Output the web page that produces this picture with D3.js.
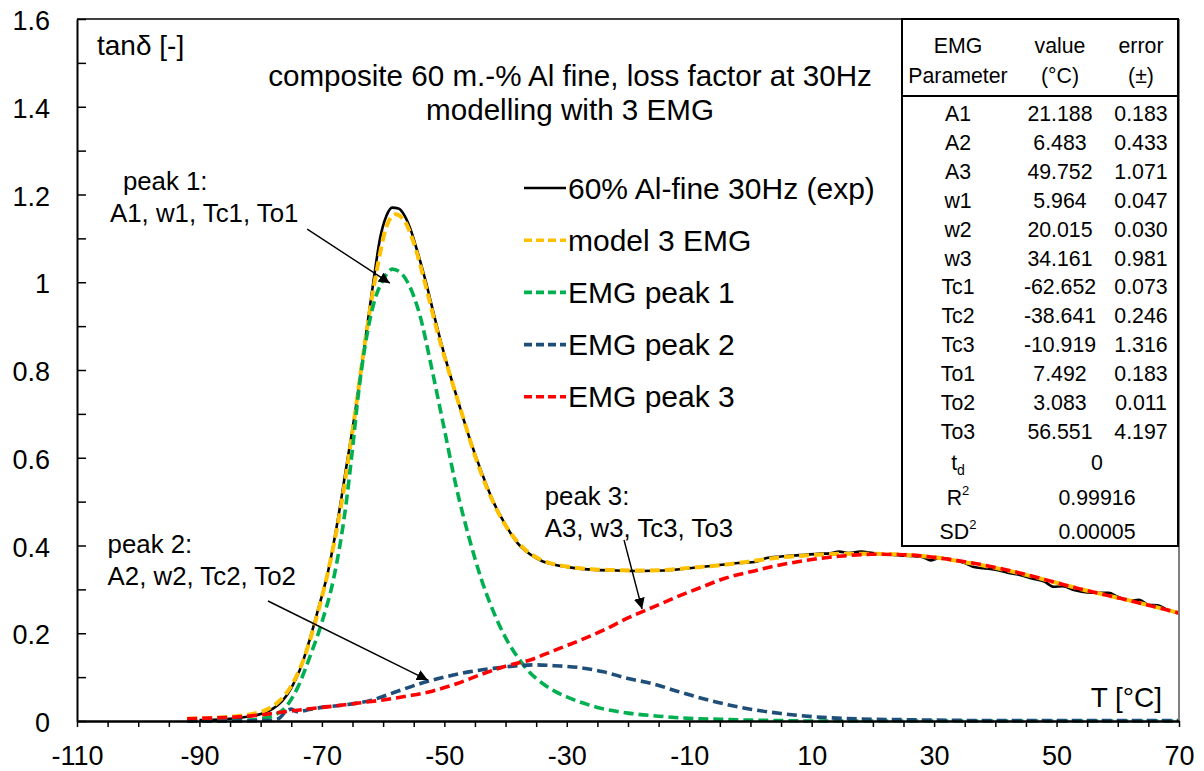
<!DOCTYPE html>
<html>
<head>
<meta charset="utf-8">
<script src="https://cdn.jsdelivr.net/npm/d3@7"></script>
<style>
  body { margin: 0; background: #fff; }
  svg { display: block; }
  text { font-family: Arial, "Liberation Sans", sans-serif; fill: #000; }
</style>
</head>
<body>
<svg id="chart" width="1204" height="771"></svg>
<script>
// ---- measured loss factor (60 m.-% Al fine, 30 Hz) ----
const expT = [-90, -86, -83, -80, -78, -76.5, -75, -73.5, -72, -70.5, -69, -67.5, -66, -64.5, -63, -61.5, -60.5, -59.5, -58.5, -57.5,
  -56.5, -55.5, -54.5, -53, -51.5, -50, -48, -46, -44, -42, -40, -38, -36, -34, -32, -29, -26, -22, -18, -14,
  -10, -6, -2, 1, 2.5, 5, 8, 11, 13, 14.5, 16, 18, 20, 22, 24, 26, 28, 29.5, 31, 33,
  35, 36.5, 38, 40, 42, 44, 46, 48, 49.5, 51, 53, 55, 57, 58.5, 60, 62, 63.5, 65, 66.5, 68, 70];
const expTan = [0.002, 0.004, 0.008, 0.016, 0.028, 0.045, 0.075, 0.12, 0.185, 0.26, 0.34, 0.45, 0.58, 0.71, 0.86, 1.01, 1.1, 1.15, 1.17, 1.168,
  1.152, 1.12, 1.075, 1.0, 0.915, 0.835, 0.74, 0.65, 0.57, 0.5, 0.447, 0.405, 0.38, 0.364, 0.356, 0.349, 0.345, 0.343, 0.342, 0.343,
  0.348, 0.354, 0.36, 0.363, 0.371, 0.375, 0.378, 0.381, 0.382, 0.386, 0.383, 0.386, 0.383, 0.38, 0.378, 0.376, 0.374, 0.366, 0.372, 0.367,
  0.36, 0.351, 0.348, 0.345, 0.338, 0.333, 0.325, 0.318, 0.306, 0.307, 0.298, 0.293, 0.292, 0.292, 0.283, 0.274, 0.276, 0.265, 0.264, 0.254, 0.245];

// ---- fitted model: sum of 3 EMG peaks ----
const modelT = [-92, -88, -84, -81, -79, -77, -75, -73, -71, -69, -67, -65, -63, -61, -59.5, -58, -56.5, -55, -53, -51,
  -49, -47, -45, -43, -41, -39, -37, -35, -33, -30, -26, -22, -18, -14, -10, -5, 0, 5, 10, 15,
  20, 25, 30, 35, 40, 45, 50, 55, 60, 65, 70];
const modelTan = [0.005, 0.007, 0.011, 0.017, 0.026, 0.045, 0.08, 0.14, 0.23, 0.34, 0.48, 0.66, 0.86, 1.03, 1.125, 1.155, 1.14, 1.09, 0.99, 0.88,
  0.785, 0.695, 0.605, 0.53, 0.47, 0.425, 0.393, 0.373, 0.361, 0.352, 0.346, 0.344, 0.343, 0.344, 0.349, 0.355, 0.364, 0.373, 0.378, 0.381,
  0.381, 0.379, 0.373, 0.362, 0.349, 0.333, 0.315, 0.297, 0.281, 0.264, 0.246];

// ---- EMG peak 1 ----
const peak1T = [-92, -88, -84, -82, -80, -78, -76, -74, -72, -70, -68, -66, -65, -64, -63, -62, -61, -60, -58.5, -57,
  -56, -54, -52, -50, -48, -46, -44, -42, -40, -38, -36, -34, -32, -30, -25, -20, -15, -10, -5, 0,
  5, 10, 30, 50, 70];
const peak1Tan = [0, 0, 0.001, 0.002, 0.005, 0.012, 0.03, 0.075, 0.145, 0.225, 0.33, 0.5, 0.62, 0.75, 0.85, 0.925, 0.975, 1.005, 1.03, 1.02,
  1.0, 0.925, 0.8, 0.665, 0.53, 0.42, 0.325, 0.25, 0.19, 0.145, 0.11, 0.086, 0.068, 0.055, 0.031, 0.018, 0.011, 0.006, 0.004, 0.002,
  0.001, 0, 0, 0, 0];

// ---- EMG peak 2 ----
const peak2T = [-92, -85, -80, -78, -77, -76, -75, -74, -72, -70, -66, -62, -58, -54, -50, -46, -42, -38, -35, -32,
  -28, -24, -20, -16, -12, -8, -4, 0, 5, 10, 15, 20, 25, 30, 40, 50, 60, 70];
const peak2Tan = [0, 0, 0.001, 0.002, 0.006, 0.02, 0.027, 0.021, 0.026, 0.031, 0.037, 0.047, 0.066, 0.085, 0.1, 0.112, 0.12, 0.126, 0.128, 0.126,
  0.122, 0.112, 0.097, 0.085, 0.068, 0.052, 0.038, 0.027, 0.017, 0.01, 0.006, 0.004, 0.003, 0.002, 0.001, 0.001, 0.001, 0.001];

// ---- EMG peak 3 ----
const peak3T = [-92, -88, -84, -80, -76, -72, -68, -64, -60, -56, -52, -48, -44, -40, -36, -32, -28, -24, -20, -16,
  -12, -8, -4, 0, 5, 10, 15, 20, 25, 30, 35, 40, 45, 50, 55, 60, 65, 70];
const peak3Tan = [0.005, 0.007, 0.009, 0.014, 0.021, 0.028, 0.034, 0.041, 0.048, 0.057, 0.068, 0.085, 0.106, 0.125, 0.139, 0.161, 0.183, 0.207, 0.235, 0.259,
  0.283, 0.305, 0.326, 0.34, 0.356, 0.368, 0.376, 0.38, 0.379, 0.373, 0.363, 0.35, 0.334, 0.315, 0.297, 0.281, 0.264, 0.246];

// ---- axis ticks ----
const xTicks = d3.range(-110, 71, 5);
const xLabelled = [-110, -90, -70, -50, -30, -10, 10, 30, 50, 70];
const yTicks = d3.range(0, 17).map(i => i / 10);
const yLabelled = [0, 0.2, 0.4, 0.6, 0.8, 1, 1.2, 1.4, 1.6];

// ---- fit parameter table ----
const paramNames = ["A1", "A2", "A3", "w1", "w2", "w3", "Tc1", "Tc2", "Tc3", "To1", "To2", "To3"];
const paramValues = ["21.188", "6.483", "49.752", "5.964", "20.015", "34.161", "-62.652", "-38.641", "-10.919", "7.492", "3.083", "56.551"];
const paramErrors = ["0.183", "0.433", "1.071", "0.047", "0.030", "0.981", "0.073", "0.246", "1.316", "0.183", "0.011", "4.197"];
const fitStatValues = ["0", "0.99916", "0.00005"];

// ---- series definitions ----
const series = [
  { name: "60% Al-fine 30Hz (exp)", T: expT, v: expTan, color: "#000000", width: 2.6, dash: null },
  { name: "model 3 EMG", T: modelT, v: modelTan, color: "#FFC000", width: 4, dash: "10,5" },
  { name: "EMG peak 1", T: peak1T, v: peak1Tan, color: "#00B050", width: 3.6, dash: "10,5" },
  { name: "EMG peak 2", T: peak2T, v: peak2Tan, color: "#1F4E79", width: 3.6, dash: "10,5" },
  { name: "EMG peak 3", T: peak3T, v: peak3Tan, color: "#FF0000", width: 3.6, dash: "10,5" }
];

const svg = d3.select("#chart");
const box = { left: 77, right: 1179, top: 19, bottom: 721 };
const x = d3.scaleLinear().domain([-110, 70]).range([box.left, box.right]);
const y = d3.scaleLinear().domain([0, 1.6]).range([box.bottom, box.top]);

// curves
const line = d3.line().x(d => x(d[0])).y(d => y(d[1])).curve(d3.curveMonotoneX);
svg.append("g").selectAll("path")
  .data(series)
  .join("path")
  .attr("d", s => line(s.T.map((t, i) => [t, s.v[i]])))
  .attr("fill", "none")
  .attr("stroke", s => s.color)
  .attr("stroke-width", s => s.width)
  .attr("stroke-dasharray", s => s.dash)
  .attr("stroke-linejoin", "round");

// frame: top and right edges
svg.append("line").attr("x1", box.left).attr("x2", box.right).attr("y1", box.top).attr("y2", box.top)
  .attr("stroke", "#000").attr("stroke-width", 1.6);
svg.append("line").attr("x1", box.right).attr("x2", box.right).attr("y1", box.top).attr("y2", box.bottom)
  .attr("stroke", "#7f7f7f").attr("stroke-width", 2);

// x axis
const fmt = d3.format("~g");
const xAxis = svg.append("g").attr("transform", `translate(0,${box.bottom})`)
  .call(d3.axisBottom(x).tickValues(xTicks).tickSize(6).tickSizeOuter(0).tickPadding(19)
    .tickFormat(d => xLabelled.includes(d) ? String(d) : ""));
xAxis.select(".domain").attr("stroke-width", 2.4);
xAxis.selectAll(".tick line").attr("stroke-width", 1.5);
xAxis.selectAll("text").attr("font-size", 27).attr("font-family", "Arial, 'Liberation Sans', sans-serif");

// y axis (ticks pointing inward)
const yAxis = svg.append("g").attr("transform", `translate(${box.left},0)`)
  .call(d3.axisLeft(y).tickValues(yTicks).tickSize(-9).tickSizeOuter(0).tickPadding(27)
    .tickFormat(d => yLabelled.some(v => Math.abs(v - d) < 1e-9) ? fmt(d) : ""));
yAxis.select(".domain").attr("stroke-width", 2);
yAxis.selectAll(".tick line").attr("stroke-width", 1.5);
yAxis.selectAll("text").attr("font-size", 27).attr("dy", "0.39em").attr("font-family", "Arial, 'Liberation Sans', sans-serif");

// axis titles
svg.append("text").attr("x", 97).attr("y", 55).attr("font-size", 28).text("tanδ [-]");
svg.append("text").attr("x", 1162).attr("y", 707).attr("font-size", 28).attr("text-anchor", "end").text("T [°C]");

// chart title
const title = svg.append("text").attr("font-size", 29.6).attr("text-anchor", "middle");
title.append("tspan").attr("x", 570).attr("y", 86).text("composite 60 m.-% Al fine, loss factor at 30Hz");
title.append("tspan").attr("x", 570).attr("y", 120).text("modelling with 3 EMG");

// legend
const legend = svg.append("g");
series.forEach((s, i) => {
  const cy = 188 + i * 52.2;
  legend.append("line").attr("x1", 524).attr("x2", 566).attr("y1", cy).attr("y2", cy)
    .attr("stroke", s.color).attr("stroke-width", s.dash ? 3.6 : 2.6).attr("stroke-dasharray", s.dash ? "8,4" : null);
  legend.append("text").attr("x", 568).attr("y", cy + 10.5).attr("font-size", 30).text(s.name);
});

// peak annotations with arrows
const defs = svg.append("defs");
defs.append("marker").attr("id", "arrowhead").attr("viewBox", "0 0 10 10").attr("refX", 10).attr("refY", 5)
  .attr("markerWidth", 11).attr("markerHeight", 11).attr("markerUnits", "userSpaceOnUse").attr("orient", "auto")
  .append("path").attr("d", "M0,0L10,5L0,10z").attr("fill", "#000");

const notes = [
  { head: "peak 1:", body: "A1, w1, Tc1, To1", tx: -102.5, ty: 1.211, bx: -104.6, from: [-72.4, 1.121], to: [-58.9, 0.998] },
  { head: "peak 2:", body: "A2, w2, Tc2, To2", tx: -105.0, ty: 0.383, bx: -105.0, from: [-78.8, 0.2735], to: [-52.7, 0.0934] },
  { head: "peak 3:", body: "A3, w3, Tc3, To3", tx: -33.6, ty: 0.492, bx: -33.6, from: [-20.65, 0.4125], to: [-17.7, 0.2553] }
];
const lineGap = 32 / (y(0) - y(1));
notes.forEach(n => {
  svg.append("text").attr("x", x(n.tx)).attr("y", y(n.ty)).attr("font-size", 25.8).text(n.head);
  svg.append("text").attr("x", x(n.bx)).attr("y", y(n.ty - lineGap)).attr("font-size", 25.8).text(n.body);
  svg.append("line").attr("x1", x(n.from[0])).attr("y1", y(n.from[1])).attr("x2", x(n.to[0])).attr("y2", y(n.to[1]))
    .attr("stroke", "#000").attr("stroke-width", 1.4).attr("marker-end", "url(#arrowhead)");
});

// parameter table
const tbl = svg.append("g");
tbl.append("rect").attr("x", 902).attr("y", 19).attr("width", 276).attr("height", 527)
  .attr("fill", "#fff").attr("stroke", "#000").attr("stroke-width", 2);
tbl.append("line").attr("x1", 902).attr("x2", 1178).attr("y1", 96).attr("y2", 96).attr("stroke", "#000").attr("stroke-width", 2);
const colX = [958, 1060, 1141];
const cell = (cx, cy, str) => tbl.append("text").attr("x", cx).attr("y", cy).attr("font-size", 21.3)
  .attr("text-anchor", "middle").text(str);
[["EMG", "Parameter"], ["value", "(°C)"], ["error", "(±)"]].forEach((h, i) => {
  cell(colX[i], 53, h[0]);
  cell(colX[i], 83, h[1]);
});
paramNames.forEach((p, i) => {
  const cy = 121 + i * 28.9;
  cell(colX[0], cy, p);
  cell(colX[1], cy, paramValues[i]);
  cell(colX[2], cy, paramErrors[i]);
});
// fit statistics rows with sub/superscripts
const statY = [470, 505, 539];
const td = tbl.append("text").attr("x", colX[0]).attr("y", statY[0]).attr("font-size", 21.3).attr("text-anchor", "middle");
td.append("tspan").text("t");
td.append("tspan").attr("font-size", 14).attr("dy", 5).text("d");
const r2 = tbl.append("text").attr("x", colX[0]).attr("y", statY[1]).attr("font-size", 21.3).attr("text-anchor", "middle");
r2.append("tspan").text("R");
r2.append("tspan").attr("font-size", 13).attr("dy", -10).text("2");
const sd2 = tbl.append("text").attr("x", colX[0]).attr("y", statY[2]).attr("font-size", 21.3).attr("text-anchor", "middle");
sd2.append("tspan").text("SD");
sd2.append("tspan").attr("font-size", 13).attr("dy", -10).text("2");
fitStatValues.forEach((v, i) => cell(1097, statY[i], v));
</script>
</body>
</html>
